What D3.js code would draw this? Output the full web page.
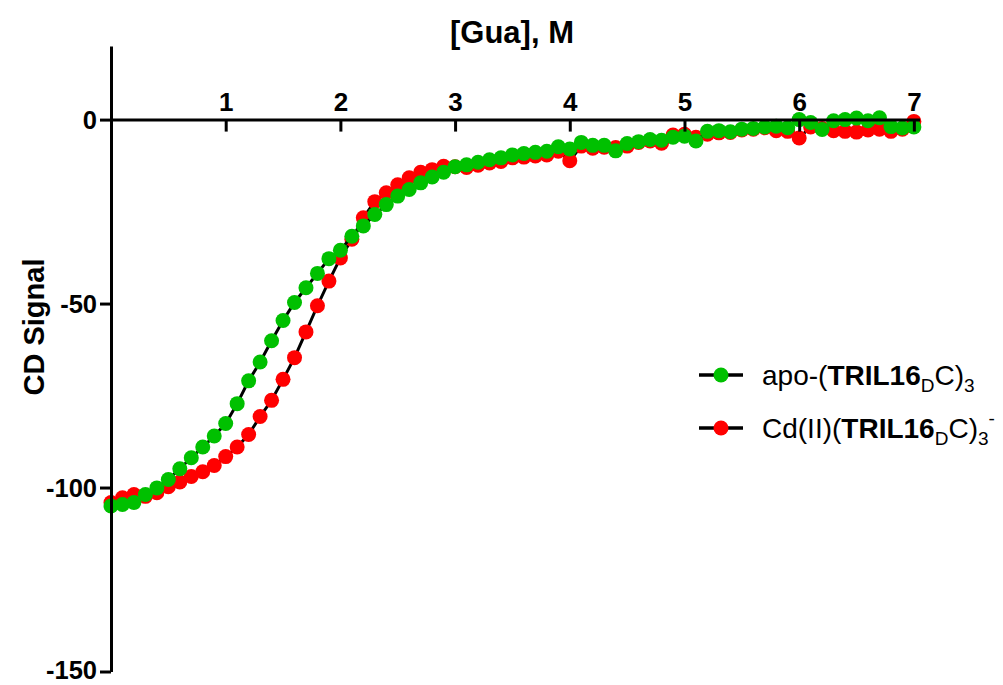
<!DOCTYPE html>
<html><head><meta charset="utf-8">
<script src="https://cdn.jsdelivr.net/npm/d3@7"></script>
<style>
html,body{margin:0;padding:0;background:#fff;}
svg{display:block;}
</style></head>
<body><svg id="chart" width="1003" height="685"></svg>
<script>
const guaConc = d3.range(71).map(i => +(i * 0.1).toFixed(1));
const apoSignal = [
 -105.0,-104.6,-104.1,-101.9,-100.1,-97.8,-94.9,-91.9,-89.0,-86.0,
 -82.6,-77.2,-71.0,-65.9,-60.1,-54.6,-49.7,-45.7,-41.8,-37.8,
 -35.5,-31.7,-28.9,-25.8,-23.1,-20.8,-19.0,-17.2,-15.6,-14.3,
 -12.8,-12.3,-11.6,-10.9,-10.4,-9.6,-9.2,-8.9,-8.6,-7.4,
 -8.0,-6.2,-7.0,-7.0,-8.5,-6.5,-6.0,-5.4,-5.6,-4.8,
 -4.5,-5.8,-3.2,-3.0,-3.3,-2.6,-2.4,-2.0,-1.8,-2.2,
 0.0,-0.8,-2.7,-0.3,0.0,0.4,-0.3,0.5,-1.9,-2.3,-2.0];
const cdSignal = [
 -104.1,-102.8,-101.9,-102.4,-101.4,-99.8,-98.5,-97.0,-95.7,-94.0,
 -91.6,-89.0,-85.6,-80.7,-76.3,-70.6,-64.7,-57.7,-50.6,-43.9,
 -37.6,-32.5,-26.7,-22.3,-19.9,-17.7,-15.8,-14.3,-13.6,-12.7,
 -12.8,-13.0,-12.4,-11.8,-11.4,-10.4,-10.2,-9.9,-9.6,-8.6,
 -11.2,-7.2,-7.8,-7.5,-7.6,-7.2,-6.2,-5.8,-6.4,-4.2,
 -4.0,-4.8,-4.0,-3.6,-3.5,-2.8,-2.6,-2.2,-3.0,-3.2,
 -5.0,-2.0,-2.4,-3.0,-3.2,-3.4,-2.8,-2.6,-3.2,-2.6,-0.5];
const xTicks = [1,2,3,4,5,6,7];
const yTicks = [-150,-100,-50,0];
const seriesNames = ["apo", "cd"];
const seriesColors = ["#00c000", "#ff0000"];

const svg = d3.select("#chart");
const x = d3.scaleLinear().domain([0, 7.05]).range([111, 919.6]);
const y = d3.scaleLinear().domain([-150, 20]).range([671.5, 46]);

// data: draw red (Cd) first, then green (apo) on top
const series = [
  {name: "cd", values: cdSignal, color: seriesColors[1]},
  {name: "apo", values: apoSignal, color: seriesColors[0]}
];
const line = d3.line().x(d => x(d[0])).y(d => y(d[1]));
series.forEach(s => {
  const pts = guaConc.map((c, i) => [c, s.values[i]]);
  const g = svg.append("g");
  g.append("path").datum(pts).attr("d", line)
    .attr("fill", "none").attr("stroke", "#000").attr("stroke-width", 3);
  g.selectAll("circle").data(pts).join("circle")
    .attr("cx", d => x(d[0])).attr("cy", d => y(d[1])).attr("r", 7.5)
    .attr("fill", s.color);
});

// axes
const xAxis = d3.axisTop(x).tickValues(xTicks).tickFormat(d3.format("d"))
  .tickSizeInner(-12).tickSizeOuter(0).tickPadding(9);
const gx = svg.append("g").attr("transform", `translate(0,${y(0)})`).call(xAxis);
const yAxis = d3.axisLeft(y).tickValues(yTicks).tickFormat(d => d3.format("d")(d).replace("−","-"))
  .tickSizeInner(11).tickSizeOuter(0).tickPadding(3);
const gy = svg.append("g").attr("transform", `translate(${x(0)},0)`).call(yAxis);
[gx, gy].forEach(g => {
  g.select(".domain").attr("stroke", "#000").attr("stroke-width", 3);
  g.selectAll(".tick line").attr("stroke", "#000").attr("stroke-width", 3);
  g.selectAll("text").attr("fill", "#000")
    .style("font-family", "Liberation Sans, Arial, sans-serif")
    .style("font-weight", "bold").style("font-size", "26px");
});
gx.selectAll("text").attr("dy", "0em");
gy.selectAll("text").attr("dy", "0.34em").style("font-size", "25.5px");
gy.selectAll(".tick").filter(d => d === -150).select("text").attr("dy", "0.26em");

// axis titles
svg.append("text").attr("x", 512).attr("y", 43).attr("text-anchor", "middle")
  .style("font-family", "Liberation Sans, Arial, sans-serif").style("font-weight", "bold")
  .style("font-size", "31px").text("[Gua], M");
svg.append("text").attr("transform", "translate(44,327) rotate(-90)").attr("text-anchor", "middle")
  .style("font-family", "Liberation Sans, Arial, sans-serif").style("font-weight", "bold")
  .style("font-size", "29px").text("CD Signal");

// legend
const legendItems = [
  {color: seriesColors[0], y: 375, parts: [["apo-(", "n"], ["TRIL16", "b"], ["D", "sub"], ["C)", "n"], ["3", "sub"]]},
  {color: seriesColors[1], y: 428, parts: [["Cd(II)(", "n"], ["TRIL16", "b"], ["D", "sub"], ["C)", "n"], ["3", "sub"], ["-", "sup"]]}
];
legendItems.forEach(it => {
  const g = svg.append("g");
  g.append("line").attr("x1", 699).attr("x2", 743).attr("y1", it.y).attr("y2", it.y)
    .attr("stroke", "#000").attr("stroke-width", 3.5);
  g.append("circle").attr("cx", 721).attr("cy", it.y).attr("r", 7.5).attr("fill", it.color);
  const t = g.append("text").attr("x", 762).attr("y", it.y + 10)
    .style("font-family", "Liberation Sans, Arial, sans-serif").style("font-size", "28px").attr("fill", "#000");
  it.parts.forEach(p => {
    const ts = t.append("tspan").text(p[0]);
    if (p[1] === "b") ts.style("font-weight", "bold");
    if (p[1] === "sub") ts.style("font-size", "19px").attr("dy", 7);
    if (p[1] === "sup") ts.style("font-size", "19px").attr("dy", -20);
    if (p[1] === "n" ) ts.attr("dy", 0);
  });
  t.selectAll("tspan").each(function(d, i) {
    const prev = i > 0 ? it.parts[i-1][1] : null;
    const cur = it.parts[i][1];
    if (prev === "sub" && cur !== "sub" && cur !== "sup") d3.select(this).attr("dy", -7);
  });
});
</script></body></html>
